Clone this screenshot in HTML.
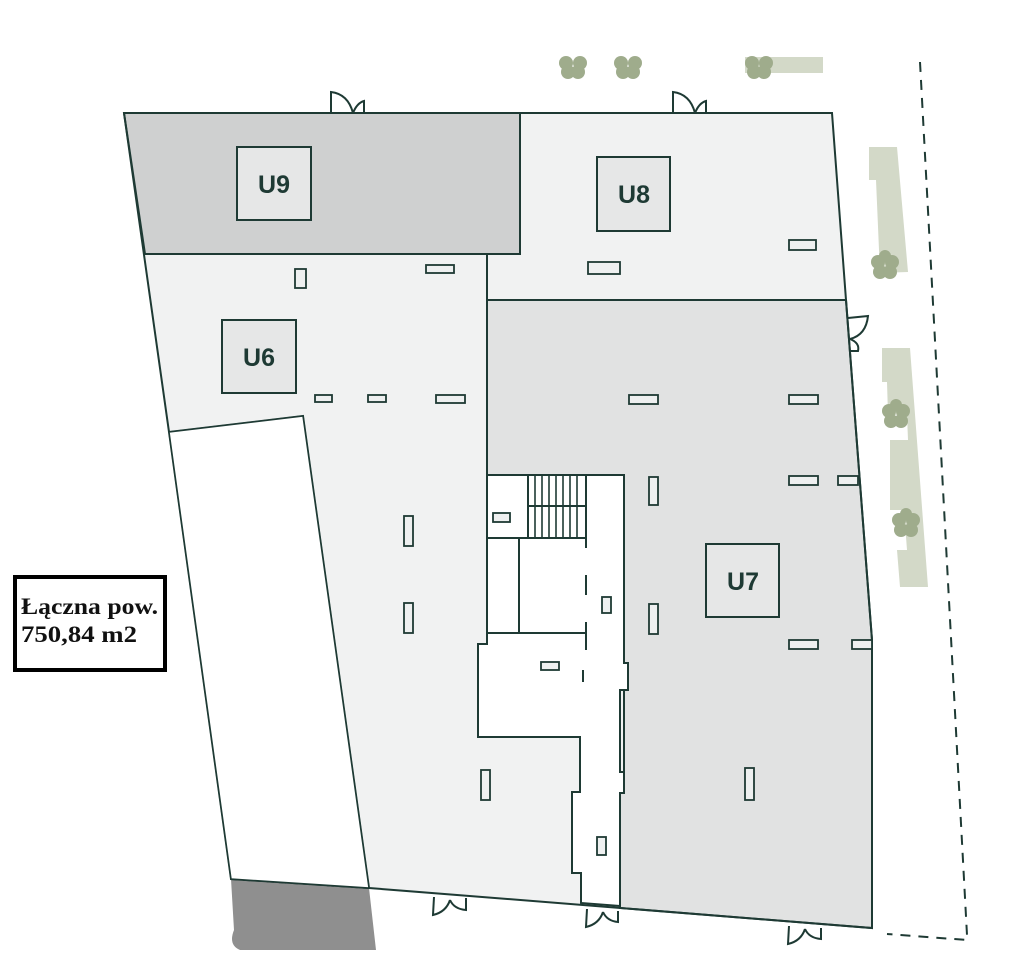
<!DOCTYPE html>
<html><head><meta charset="utf-8"><style>
html,body{margin:0;padding:0;background:#fff;}
svg{display:block}
.l{fill:none;stroke:#1e3a34;stroke-width:2}
.lab{font-family:"Liberation Sans",sans-serif;font-weight:bold;font-size:25px;fill:#1e3a34;text-anchor:middle}
.tr{fill:#9fac8c}
.pl{fill:#d3d9c8}
</style></head><body>
<svg width="1018" height="954" viewBox="0 0 1018 954">
<rect class="pl" x="745" y="57" width="78" height="16"/>
<g class="tr">
<circle cx="566" cy="63" r="7"/><circle cx="580" cy="63" r="7"/><circle cx="568" cy="72" r="7"/><circle cx="578" cy="72" r="7"/>
<circle cx="621" cy="63" r="7"/><circle cx="635" cy="63" r="7"/><circle cx="623" cy="72" r="7"/><circle cx="633" cy="72" r="7"/>
<circle cx="752" cy="63" r="7"/><circle cx="766" cy="63" r="7"/><circle cx="754" cy="72" r="7"/><circle cx="764" cy="72" r="7"/>
</g>
<polygon class="pl" points="869,147 897,147 908,272 880,273 876,180 869,180"/>
<polygon class="pl" points="882,348 910,348 928,587 900,587 897,550 907,550 904,510 890,510 890,440 908,440 907,415 888,415 887,382 882,382"/>
<g class="tr">
<circle cx="878" cy="262" r="7"/><circle cx="892" cy="262" r="7"/><circle cx="880" cy="272" r="7"/><circle cx="890" cy="272" r="7"/><circle cx="885" cy="256" r="6"/>
<circle cx="889" cy="411" r="7"/><circle cx="903" cy="411" r="7"/><circle cx="891" cy="421" r="7"/><circle cx="901" cy="421" r="7"/><circle cx="896" cy="405" r="6"/>
<circle cx="899" cy="520" r="7"/><circle cx="913" cy="520" r="7"/><circle cx="901" cy="530" r="7"/><circle cx="911" cy="530" r="7"/><circle cx="906" cy="514" r="6"/>
</g>
<path d="M920 62 L967 935 L967 940 L887 934" fill="none" stroke="#1e3a34" stroke-width="2" stroke-dasharray="10,8"/>
<path d="M231 879 L369 888 L376 950 L240 950 Q228 945 234 930 Z" fill="#8f8f8f"/>
<path d="M231 879 L369 888" fill="none" stroke="#1e3a34" stroke-width="2" stroke-dasharray="7,5"/>
<polygon points="124,113 832,113 872,640 872,928 369,888 303,416 169,432" fill="#f1f2f2"/>
<polygon points="124,113 520,113 520,254 145,254" fill="#cfd0d0" stroke="#1e3a34" stroke-width="2"/>
<polygon points="487,300 846,300 872,640 872,928 620,908 620,772 624,772 624,690 628,690 628,663 624,663 624,475 487,475" fill="#e1e2e2" stroke="#1e3a34" stroke-width="2"/>
<path d="M487 475 L624 475 L624 663 L628 663 L628 690 L620 690 L620 772 L624 772 L624 793 L620 793 L620 906 L581 903 L581 873 L572 873 L572 792 L580 792 L580 737 L478 737 L478 644 L487 644 Z" fill="#fff" stroke="#1e3a34" stroke-width="2"/>
<path class="l" d="M124 113 L832 113 L846 300 L872 640 L872 928 L369 888 L231 879 L169 432 L303 416 L369 888 M124 113 L169 432"/>
<polygon points="169,432 303,416 369,888 231,879" fill="#fff" stroke="#1e3a34" stroke-width="1.5"/>
<path class="l" d="M520 254 L487 254 L487 475 M487 300 L846 300"/>
<path class="l" d="M487 538 L586 538 M519 538 L519 633 M487 633 L586 633 M586 474 L586 548 M586 575 L586 595 M586 622 L586 650 M583 670 L583 682 M528 474 L528 538 M528 506 L586 506"/>
<g stroke="#1e3a34" stroke-width="1.6">
<line x1="535" y1="474" x2="535" y2="538"/><line x1="542" y1="474" x2="542" y2="538"/><line x1="549" y1="474" x2="549" y2="538"/><line x1="556" y1="474" x2="556" y2="538"/><line x1="563" y1="474" x2="563" y2="538"/><line x1="570" y1="474" x2="570" y2="538"/><line x1="577" y1="474" x2="577" y2="538"/>
</g>
<g fill="#eef0f0" stroke="#1e3a34" stroke-width="1.8">
<rect x="295" y="269" width="11" height="19"/>
<rect x="426" y="265" width="28" height="8"/>
<rect x="588" y="262" width="32" height="12"/>
<rect x="789" y="240" width="27" height="10"/>
<rect x="315" y="395" width="17" height="7"/>
<rect x="368" y="395" width="18" height="7"/>
<rect x="436" y="395" width="29" height="8"/>
<rect x="629" y="395" width="29" height="9"/>
<rect x="789" y="395" width="29" height="9"/>
<rect x="789" y="476" width="29" height="9"/>
<rect x="838" y="476" width="20" height="9"/>
<rect x="649" y="477" width="9" height="28"/>
<rect x="404" y="516" width="9" height="30"/>
<rect x="404" y="603" width="9" height="30"/>
<rect x="493" y="513" width="17" height="9"/>
<rect x="602" y="597" width="9" height="16"/>
<rect x="649" y="604" width="9" height="30"/>
<rect x="541" y="662" width="18" height="8"/>
<rect x="789" y="640" width="29" height="9"/>
<rect x="852" y="640" width="20" height="9"/>
<rect x="481" y="770" width="9" height="30"/>
<rect x="745" y="768" width="9" height="32"/>
<rect x="597" y="837" width="9" height="18"/>
</g>
<g class="l" stroke-width="2">
<path d="M331 113 L331 92 Q348 94 353 113 M353 113 Q357 103 364 101 L364 113"/>
<path d="M673 113 L673 92 Q690 94 695 113 M695 113 Q699 103 706 101 L706 113"/>
<path d="M848 318 L868 316 Q866 335 850 339 M850 339 Q860 343 858 351 L850 351"/>
<path d="M434 897 L433 915 Q446 912 450 900 M450 900 Q454 909 466 910 L466 898"/>
<path d="M587 909 L586 927 Q599 924 603 912 M603 912 Q607 921 618 922 L618 911"/>
<path d="M789 926 L788 944 Q801 941 805 929 M805 929 Q809 938 821 939 L821 928"/>
</g>
<g fill="#e6e7e7" stroke="#1e3a34" stroke-width="2">
<rect x="237" y="147" width="74" height="73"/>
<rect x="597" y="157" width="73" height="74"/>
<rect x="222" y="320" width="74" height="73"/>
<rect x="706" y="544" width="73" height="73"/>
</g>
<text class="lab" x="274" y="193">U9</text>
<text class="lab" x="634" y="203">U8</text>
<text class="lab" x="259" y="366">U6</text>
<text class="lab" x="743" y="590">U7</text>
<rect x="15" y="577" width="150" height="93" fill="#fff" stroke="#000" stroke-width="4"/>
<text x="21" y="614" font-family="'Liberation Serif',serif" font-weight="bold" font-size="23" fill="#111" textLength="137" lengthAdjust="spacingAndGlyphs">Łączna pow.</text>
<text x="21" y="642" font-family="'Liberation Serif',serif" font-weight="bold" font-size="23" fill="#111" textLength="116" lengthAdjust="spacingAndGlyphs">750,84 m2</text>
</svg>
</body></html>
